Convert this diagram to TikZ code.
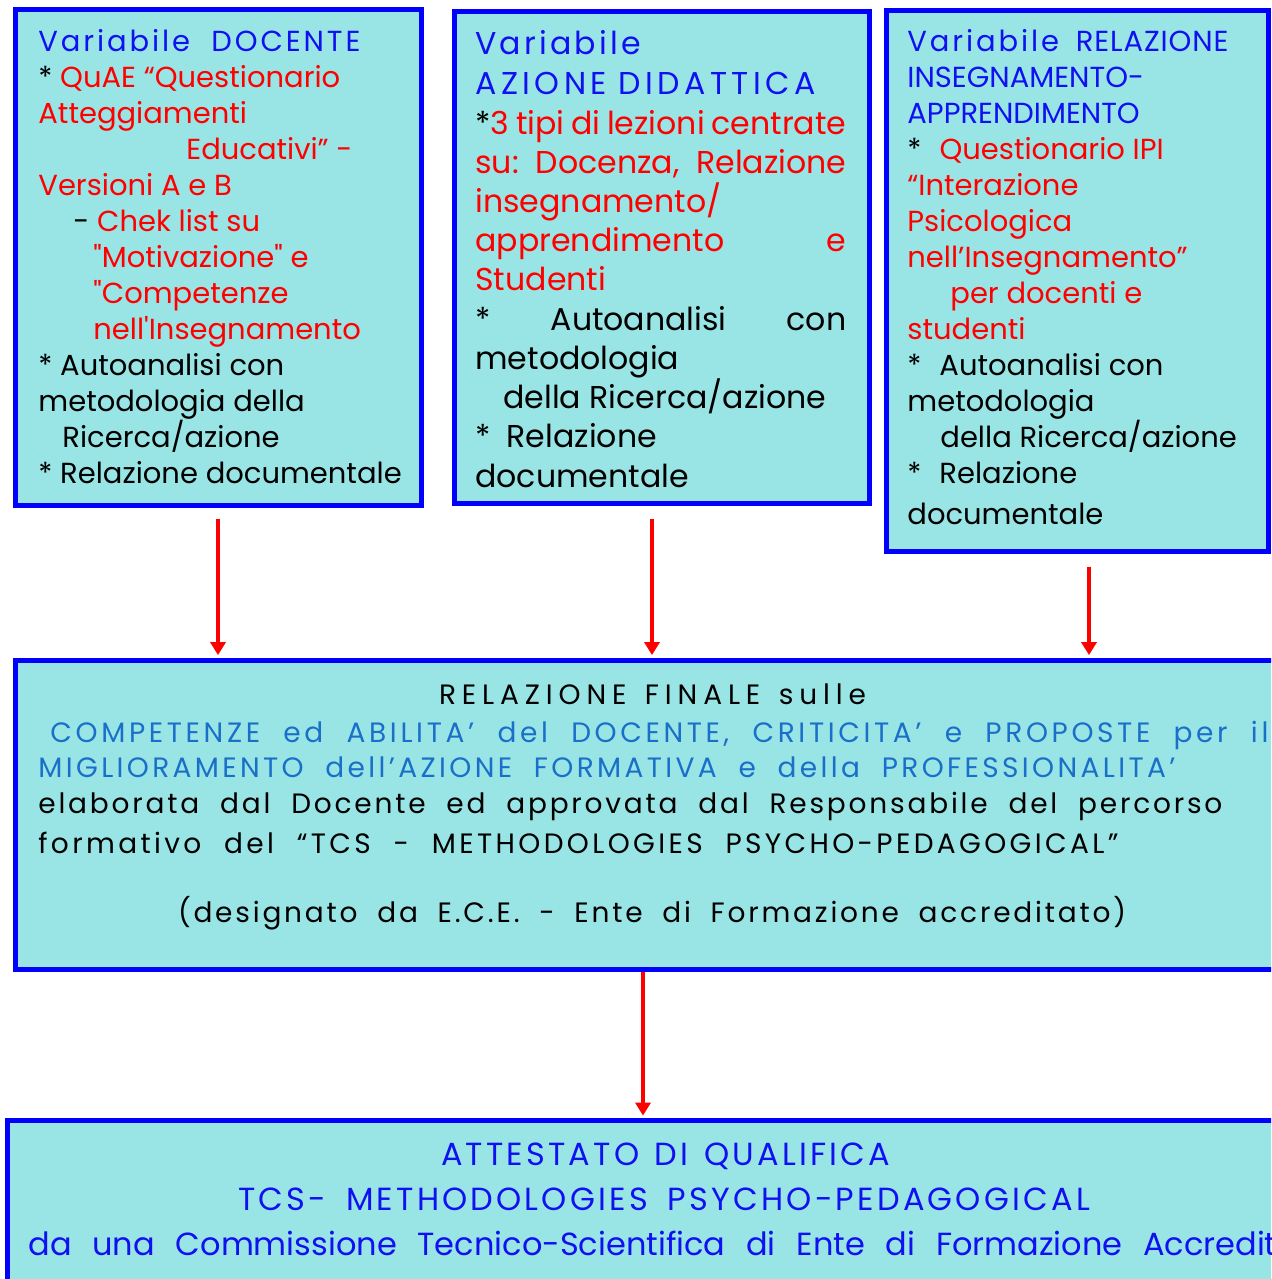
\documentclass[tikz,border=0pt]{standalone}
\usepackage{fontspec}
\setmainfont{Poppins}[Ligatures=TeXOff]
\newfontfamily\trackfont{Poppins}[Ligatures=TeXOff,LetterSpace=10]
\usetikzlibrary{arrows.meta,fit}

\definecolor{boxfill}{HTML}{99E5E6}
\definecolor{boxline}{HTML}{0000FF}
\definecolor{headblue}{HTML}{1010F0}
\definecolor{propblue}{HTML}{1A6FC8}
\definecolor{textred}{HTML}{FF0000}

\tikzset{
	varbox/.style={draw=boxline, line width=2.5pt, fill=boxfill, inner sep=0pt},
	boxtext/.style={anchor=base west, inner sep=0pt},
	fintext/.style={inner sep=0pt, font=\trackfont\fontsize{14}{16}\selectfont},
	atttext/.style={inner sep=0pt, text=headblue, font=\trackfont\fontsize{16}{18}\selectfont},
	redarrow/.style={draw=textred, line width=2pt, shorten >=1.2pt, -{Triangle[length=6.5pt,width=7.5pt]}},
}
\newcommand{\rd}[1]{\textcolor{textred}{#1}}
\newcommand{\hd}[1]{\textcolor{headblue}{{\trackfont #1}}}
\newcommand{\fitline}[2]{\makebox[#1][s]{#2}}

\begin{document}
\begin{tikzpicture}[x=0.5pt,y=-0.5pt]
	\useasboundingbox (0,0) rectangle (1271,1279);
	\clip (0,0) rectangle (1271,1279);
	% the five boxes
	\node[varbox, fit={(15,10) (421,505)}] (docente) {};
	\node[varbox, fit={(454,12) (869,503)}] (azione) {};
	\node[varbox, fit={(886,11) (1268,551)}] (relazione) {};
	\node[varbox, fit={(15,660) (1290,969.5)}] (finale) {};
	\node[varbox, fit={(7,1120.5) (1323,1330)}] (attestato) {};
	% arrows
	\draw[redarrow, shorten <=5.5pt] (docente.south) -- (docente.south |- finale.north);
	\draw[redarrow, shorten <=6.5pt] ([xshift=-4.75pt]azione.south) -- ([xshift=-4.75pt]azione.south |- finale.north);
	\draw[redarrow, shorten <=6.5pt] ([xshift=6pt]relazione.south) -- ([xshift=6pt]relazione.south |- finale.north);
	\draw[redarrow, shorten <=0pt] ([xshift=-4.75pt]finale.south) -- ([xshift=-4.75pt]finale.south |- attestato.north);
	% texts of the upper boxes
	\node[boxtext] (doctxt) at (38,52) {\parbox[t]{200pt}{\fontsize{14.5}{18}\selectfont
		\hd{\fitline{161pt}{Variabile DOCENTE}}\\
		{*} \rd{QuAE “Questionario}\\
		\rd{Atteggiamenti}\\
		\hspace*{74pt}\rd{Educativi” -}\\
		\rd{Versioni A e B}\\
		\hspace*{17.5pt}- \rd{Chek list su}\\
		\hspace*{27.5pt}\rd{"Motivazione" e}\\
		\hspace*{27.5pt}\rd{"Competenze}\\
		\hspace*{27.5pt}\rd{nell'Insegnamento}\\
		{*} Autoanalisi con\\
		metodologia della\\
		\hspace*{12pt}Ricerca/azione\\
		{*} Relazione documentale}};
	\node[boxtext] (azitxt) at (475,55) {\parbox[t]{185.5pt}{\fontsize{15.8}{19.6}\selectfont
		\hd{Variabile}\\[0.4pt]
		\hd{\addfontfeatures{LetterSpace=14}\fitline{170pt}{AZIONE DIDATTICA}}\\
		{*}\rd{3 tipi di lezioni centrate}\\
		\rd{su:\hfill Docenza,\hfill Relazione}\\
		\rd{insegnamento/}\\
		\rd{apprendimento\hfill e}\\
		\rd{Studenti}\\
		{*}\hfill Autoanalisi\hfill con\\
		metodologia\\
		\hspace*{14pt}della Ricerca/azione\\
		{*}\hspace{8pt}Relazione\\
		documentale}};
	\node[boxtext] (reltxt) at (907,52) {\parbox[t]{190pt}{\fontsize{14.5}{18}\selectfont
		\textcolor{headblue}{\fitline{160.5pt}{{\trackfont Variabile} {\addfontfeatures{LetterSpace=3}RELAZIONE}}}\\
		\textcolor{headblue}{INSEGNAMENTO-}\\
		\textcolor{headblue}{APPRENDIMENTO}\\
		{*}\hspace{9pt}\rd{Questionario IPI}\\
		\rd{“Interazione}\\
		\rd{Psicologica}\\
		\rd{nell’Insegnamento”}\\
		\hspace*{21.5pt}\rd{per docenti e}\\
		\rd{studenti}\\
		{*}\hspace{9pt}Autoanalisi con\\
		metodologia\\
		\hspace*{16.5pt}della Ricerca/azione\\
		{*}\hspace{9pt}Relazione\\[2.5pt]
		documentale}};
	% final report
	\node[fintext, anchor=base] (finA) at (652.5,704) {\addfontfeatures{LetterSpace=21}\fitline{213.5pt}{RELAZIONE FINALE sulle}};
	\node[fintext, anchor=base west, text=propblue] (finB) at (50,742) {\addfontfeatures{LetterSpace=13}\fitline{609pt}{COMPETENZE ed ABILITA’ del DOCENTE, CRITICITA’ e PROPOSTE per il}};
	\node[fintext, anchor=base west, text=propblue] (finC) at (38,777) {\addfontfeatures{LetterSpace=12}\fitline{568.5pt}{MIGLIORAMENTO dell’AZIONE FORMATIVA e della PROFESSIONALITA’}};
	\node[fintext, anchor=base west] (finD) at (38,813) {\fitline{592pt}{elaborata dal Docente ed approvata dal Responsabile del percorso}};
	\node[fintext, anchor=base west] (finE) at (38,853) {\addfontfeatures{LetterSpace=12}\fitline{540pt}{formativo del “TCS - METHODOLOGIES PSYCHO-PEDAGOGICAL”}};
	\node[fintext, anchor=base] (finF) at (652,922) {\fitline{474pt}{(designato da E.C.E. - Ente di Formazione accreditato)}};
	% certificate
	\node[atttext, anchor=base] (attA) at (665.5,1165) {\fitline{224.5pt}{ATTESTATO DI QUALIFICA}};
	\node[atttext, anchor=base] (attB) at (664,1210) {\fitline{426pt}{TCS- METHODOLOGIES PSYCHO-PEDAGOGICAL}};
	\node[atttext, anchor=base west, font=\rmfamily\fontsize{16}{18}\selectfont] (attC) at (28,1255) {\fitline{651pt}{da una Commissione Tecnico-Scientifica di Ente di Formazione Accreditato}};
\end{tikzpicture}
\end{document}
